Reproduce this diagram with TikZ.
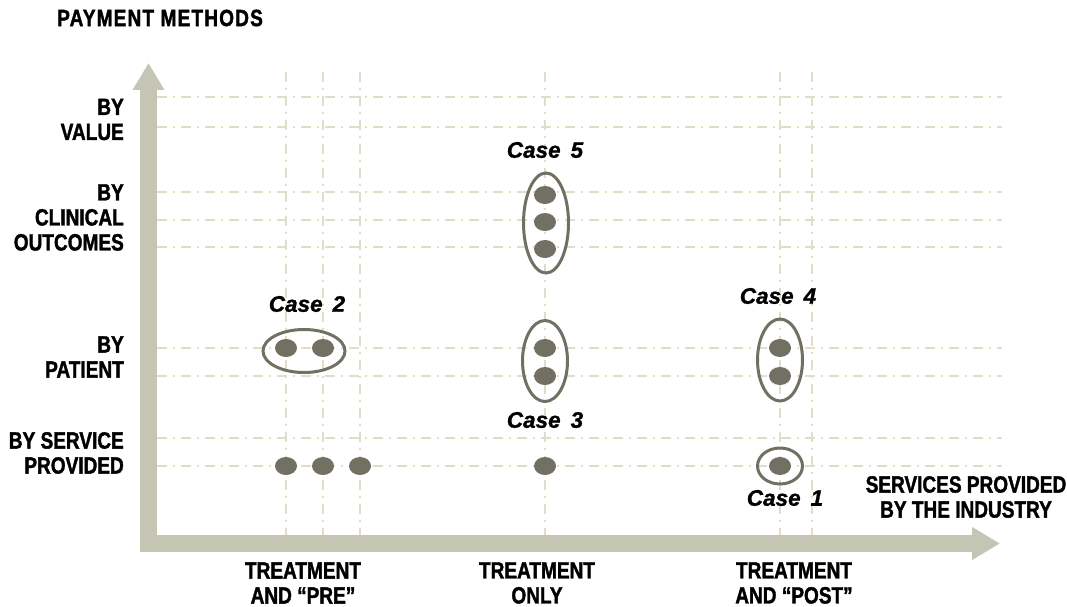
\documentclass[tikz,border=0pt]{standalone}
\usepackage{fontspec}
\setmainfont{Liberation Sans}[FakeStretch=0.81,BoldFeatures={FakeBold=1.5}]
\newfontfamily\casefont{Liberation Sans}[BoldItalicFeatures={FakeBold=1.2}]
\usepackage{tikz}
\usetikzlibrary{arrows.meta}
\usetikzlibrary{shapes.geometric}
\definecolor{axisgray}{HTML}{C5C5B3}
\definecolor{gridbeige}{HTML}{E2DCC8}
\definecolor{dotgray}{HTML}{727062}

\begin{document}
\begin{tikzpicture}[x=1pt,y=-1pt,
 lbl/.style={font=\fontsize{23.5}{25}\selectfont\bfseries,inner sep=0pt},
 casetxt/.style={font=\casefont\fontsize{22.5}{24}\selectfont\bfseries\itshape,inner sep=0pt},
 dot/.style={ellipse,fill=dotgray,minimum width=22pt,minimum height=18pt,inner sep=0pt},
 grp/.style={ellipse,draw=dotgray,line width=3pt,inner sep=0pt},
 gridln/.style={gridbeige,line width=2pt,dash pattern=on 10pt off 6pt on 2pt off 6pt}]
 \useasboundingbox (0,0) rectangle (1067,607);
 % grid
 \foreach \gy in {97,127,192,220,247,348,376,438,466}
  \draw [gridln] (157,\gy) -- (1002,\gy);
 \foreach \gx in {286,323,360,545,780,812}
  \draw [gridln] (\gx,72) -- (\gx,535);
 % axes
 \coordinate (ytop) at (148.5,63);
 \coordinate (orig) at (148.5,543.5);
 \coordinate (xend) at (1000,543.5);
 \draw [axisgray,line width=17pt,{Triangle[width=30pt,length=27pt]}-{Triangle[width=31pt,length=28pt]}] (ytop) -- (orig) -- (xend);
 % dots
 \node [dot] (s1) at (286,466) {};
 \node [dot] (s2) at (323,466) {};
 \node [dot] (s3) at (360,466) {};
 \node [dot] (s4) at (545,466) {};
 \node [dot] (p1) at (286,348) {};
 \node [dot] (p2) at (323,348) {};
 \node [dot] (p3) at (545,348) {};
 \node [dot] (p4) at (545,376) {};
 \node [dot] (p5) at (780,348) {};
 \node [dot] (p6) at (780,376) {};
 \node [dot] (s5) at (780,466) {};
 \node [dot] (c1) at (545,195) {};
 \node [dot] (c2) at (545,222) {};
 \node [dot] (c3) at (545,249) {};
 % cases
 \node [grp,minimum width=45pt,minimum height=36pt] (case1) at (780,466) {};
 \node [grp,minimum width=82pt,minimum height=43pt] (case2) at (304,351) {};
 \node [grp,minimum width=45pt,minimum height=81pt] (case3) at (545,361) {};
 \node [grp,minimum width=45pt,minimum height=82pt] (case4) at (780,360) {};
 \node [grp,minimum width=45pt,minimum height=100pt] (case5) at (546,223) {};
 \node [casetxt] (t1) at (785,498) {Case\, 1};
 \node [casetxt] (t2) at (307,304) {Case\, 2};
 \node [casetxt] (t3) at (545,420) {Case\, 3};
 \node [casetxt] (t4) at (778,296) {Case\, 4};
 \node [casetxt] (t5) at (545,150) {Case\, 5};
 % labels
 \node [lbl,anchor=west] (ytitle) at (57,18) {\addfontfeature{LetterSpace=5}PAYMENT METHODS};
 \node [lbl,anchor=east,align=right] (yval) at (124,119.5) {BY\\VALUE};
 \node [lbl,anchor=east,align=right] (yclin) at (124,217.5) {BY\\CLINICAL\\OUTCOMES};
 \node [lbl,anchor=east,align=right] (ypat) at (124,357) {BY\\PATIENT};
 \node [lbl,anchor=east,align=right] (yserv) at (124,453) {BY SERVICE\\PROVIDED};
 \node [lbl,align=center] (xtitle) at (966,497) {SERVICES PROVIDED\\BY THE INDUSTRY};
 \node [lbl,align=center] (xpre) at (303,583) {TREATMENT\\AND “PRE”};
 \node [lbl,align=center] (xonly) at (537,583) {TREATMENT\\ONLY};
 \node [lbl,align=center] (xpost) at (794,583) {TREATMENT\\AND “POST”};
\end{tikzpicture}
\end{document}
